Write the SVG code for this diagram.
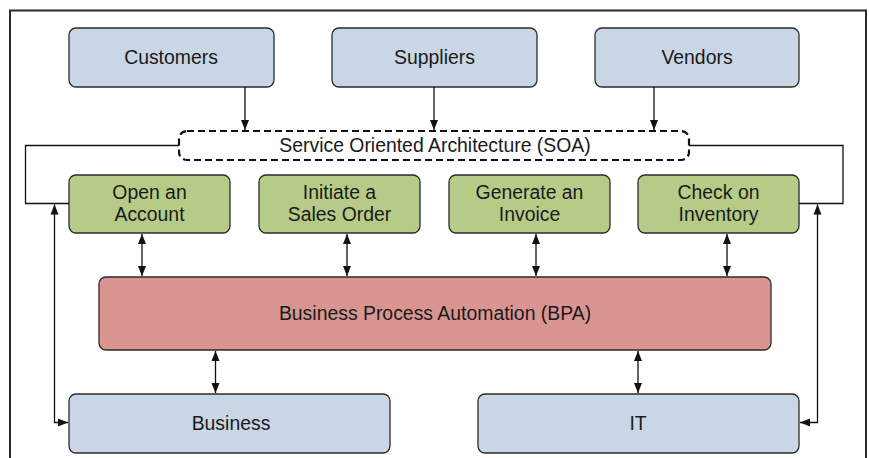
<svg xmlns="http://www.w3.org/2000/svg" width="869" height="458" viewBox="0 0 869 458">
  <style>
    .lbl { font-family: "Liberation Sans", Arial, sans-serif; font-size: 19.4px; fill: #1a1a1a; text-anchor: middle; }
    .ext { fill: #C9D6E6; stroke: #2b2b2b; stroke-width: 1.3; }
    .svc { fill: #B7CB88; stroke: #2b2b2b; stroke-width: 1.3; }
    .bpa { fill: #D99592; stroke: #2b2b2b; stroke-width: 1.3; }
    .soa { fill: #ffffff; stroke: #111; stroke-width: 2.2; stroke-dasharray: 7 4; }
    .wire { fill: none; stroke: #111; stroke-width: 1.3; }
  </style>
  <defs>
    <marker id="head" markerWidth="11" markerHeight="11" refX="10" refY="5.5" orient="auto-start-reverse" markerUnits="userSpaceOnUse">
      <path d="M0,1.5 L10,5.5 L0,9.5 Z" fill="#111"/>
    </marker>
  </defs>

  <rect width="869" height="458" fill="#ffffff"/>
  <!-- outer frame -->
  <rect x="10" y="10.5" width="856" height="470" fill="none" stroke="#2a2a2a" stroke-width="2"/>

  <!-- stakeholders -->
  <g id="customers"><rect class="ext" x="69" y="28" width="205" height="59" rx="7"/><text class="lbl" x="171" y="64">Customers</text></g>
  <g id="suppliers"><rect class="ext" x="332" y="28" width="205" height="59" rx="7"/><text class="lbl" x="434.5" y="64">Suppliers</text></g>
  <g id="vendors"><rect class="ext" x="595" y="28" width="204" height="59" rx="7"/><text class="lbl" x="697" y="64">Vendors</text></g>

  <!-- SOA layer -->
  <g id="soa"><rect class="soa" x="179" y="131" width="510" height="29" rx="8"/><text class="lbl" x="435" y="152">Service Oriented Architecture (SOA)</text></g>

  <!-- services -->
  <g id="open-account"><rect class="svc" x="69" y="175" width="161" height="58" rx="7"/><text class="lbl" x="149.5" y="199">Open an</text><text class="lbl" x="149.5" y="221">Account</text></g>
  <g id="sales-order"><rect class="svc" x="259" y="175" width="161" height="58" rx="7"/><text class="lbl" x="339.5" y="199">Initiate a</text><text class="lbl" x="339.5" y="221">Sales Order</text></g>
  <g id="invoice"><rect class="svc" x="449" y="175" width="161" height="58" rx="7"/><text class="lbl" x="529.5" y="199">Generate an</text><text class="lbl" x="529.5" y="221">Invoice</text></g>
  <g id="inventory"><rect class="svc" x="638" y="175" width="161" height="58" rx="7"/><text class="lbl" x="718.5" y="199">Check on</text><text class="lbl" x="718.5" y="221">Inventory</text></g>

  <!-- automation layer -->
  <g id="bpa"><rect class="bpa" x="99" y="277" width="672" height="73" rx="7"/><text class="lbl" x="435" y="320">Business Process Automation (BPA)</text></g>

  <!-- owners -->
  <g id="business"><rect class="ext" x="69" y="394" width="321" height="59" rx="7"/><text class="lbl" x="231" y="430">Business</text></g>
  <g id="it"><rect class="ext" x="478" y="394" width="321" height="59" rx="7"/><text class="lbl" x="638" y="430">IT</text></g>

  <g id="connectors">
    <!-- stakeholders into SOA -->
    <path class="wire" d="M245,87 V130" marker-end="url(#head)"/>
    <path class="wire" d="M434,87 V130" marker-end="url(#head)"/>
    <path class="wire" d="M654,87 V130" marker-end="url(#head)"/>
    <!-- SOA to outer services -->
    <path class="wire" d="M179,145.5 H25.5 V203.5 H69"/>
    <path class="wire" d="M689,145.5 H843 V203.5 H799"/>
    <!-- services to BPA -->
    <path class="wire" d="M142,234 V276" marker-start="url(#head)" marker-end="url(#head)"/>
    <path class="wire" d="M347,234 V276" marker-start="url(#head)" marker-end="url(#head)"/>
    <path class="wire" d="M536,234 V276" marker-start="url(#head)" marker-end="url(#head)"/>
    <path class="wire" d="M727,234 V276" marker-start="url(#head)" marker-end="url(#head)"/>
    <!-- BPA to owners -->
    <path class="wire" d="M215.5,351 V393" marker-start="url(#head)" marker-end="url(#head)"/>
    <path class="wire" d="M638,351 V393" marker-start="url(#head)" marker-end="url(#head)"/>
    <!-- owners back to the service links -->
    <path class="wire" d="M54.5,204.5 V422.5 H68" marker-start="url(#head)" marker-end="url(#head)"/>
    <path class="wire" d="M817.5,204.5 V422.5 H800" marker-start="url(#head)" marker-end="url(#head)"/>
  </g>
</svg>
